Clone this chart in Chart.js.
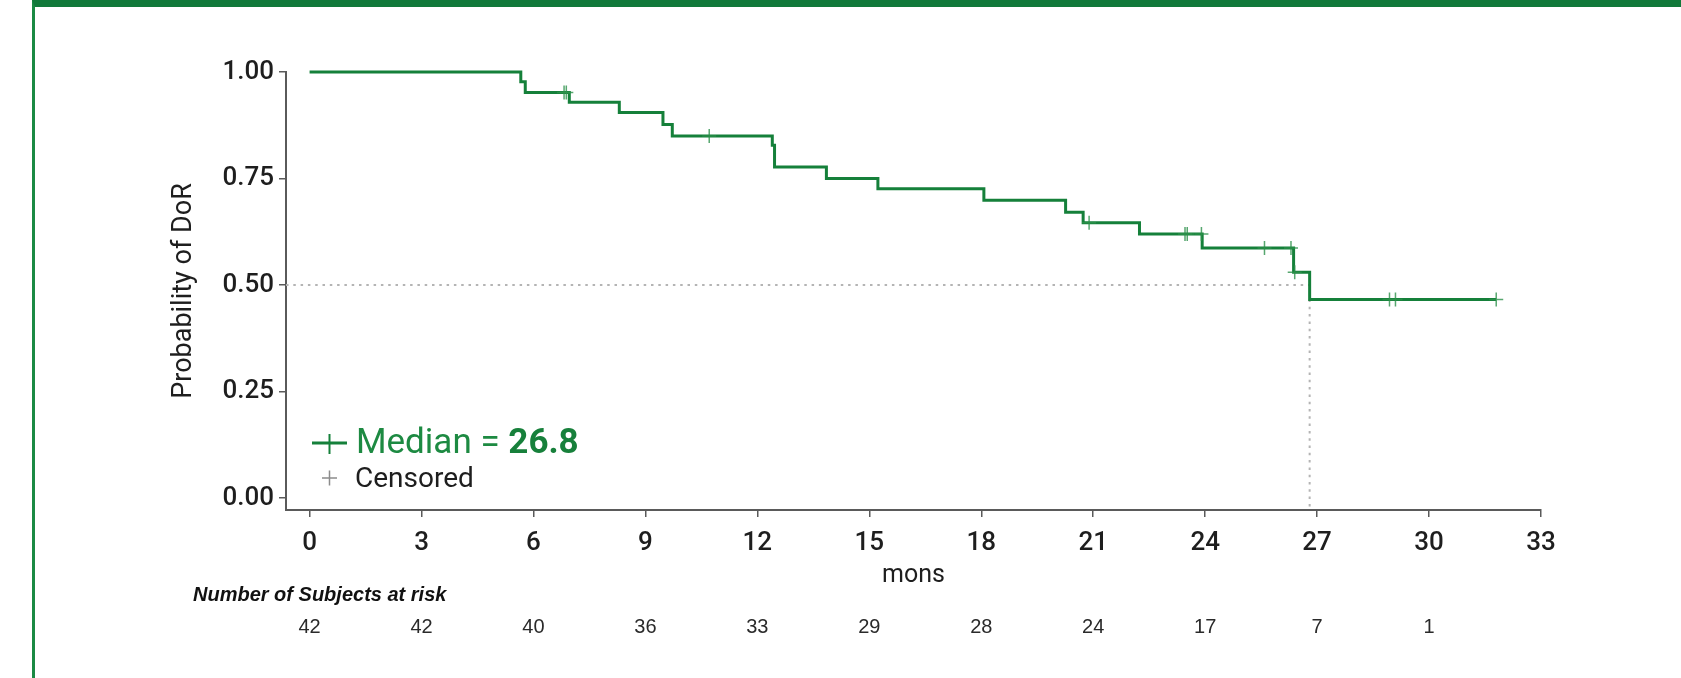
<!DOCTYPE html>
<html>
<head>
<meta charset="utf-8">
<script src="https://cdn.jsdelivr.net/npm/chart.js@4.4.1/dist/chart.umd.min.js"></script>
<style>
  html, body { margin: 0; padding: 0; background: #fff; }
  body { width: 1681px; height: 678px; overflow: hidden; position: relative; }
  #km { position: absolute; left: 0; top: 0; }
  #frame {
    position: absolute; left: 32px; top: 0; right: 0; bottom: 0;
    border-top: 7px solid #11793a; border-left: 3px solid #1b8a44;
    pointer-events: none;
  }
</style>
</head>
<body>
<canvas id="km" width="1681" height="678"></canvas>
<div id="frame"></div>
<script>
// Kaplan-Meier estimate of duration of response (months)
const stepTimes = [0, 5.66, 5.78, 6.96, 8.30, 9.47, 9.72, 12.40, 12.46, 13.85, 15.23, 18.07, 20.26, 20.73, 22.24, 23.92, 26.37, 26.80, 31.80];
const stepSurv  = [1.000, 0.977, 0.952, 0.929, 0.905, 0.877, 0.850, 0.828, 0.777, 0.750, 0.726, 0.699, 0.671, 0.646, 0.620, 0.587, 0.530, 0.466, 0.466];

// censored observations
const censorTimes = [6.82, 6.88, 10.71, 20.89, 23.46, 23.52, 23.90, 25.59, 26.30, 26.40, 28.94, 29.10, 31.80];
const censorSurv  = [0.952, 0.952, 0.850, 0.646, 0.620, 0.620, 0.620, 0.587, 0.587, 0.530, 0.466, 0.466, 0.466];

// median duration of response
const medianTime = 26.8;
const medianSurv = 0.466;

// axis ticks
const xTicks = [0, 3, 6, 9, 12, 15, 18, 21, 24, 27, 30, 33];
const yTicks = [0, 0.25, 0.5, 0.75, 1];

// number at risk below the time axis
const riskTimes  = [0, 3, 6, 9, 12, 15, 18, 21, 24, 27, 30];
const riskCounts = [42, 42, 40, 36, 33, 29, 28, 24, 17, 7, 1];

const X_MIN = -0.632, X_MAX = 33;
const Y_MIN = -0.028, Y_MAX = 1;

const GREEN = '#15803a';
const TEXT = '#1e1e1e';
const AXIS = '#5a5a5a';
const tickFont = { family: 'Roboto', size: 26, weight: '500' };
const titleFont = { family: 'Roboto', size: 27 };

const pts = (xs, ys) => xs.map((x, i) => ({ x: x, y: ys[i] }));

const overlay = {
  id: 'kmOverlay',
  afterDraw(chart) {
    const ctx = chart.ctx;
    const area = chart.chartArea;
    const xs = chart.scales.x;
    ctx.save();

    // legend
    const lx = area.left + 26;
    ctx.strokeStyle = GREEN;
    ctx.lineWidth = 3;
    ctx.beginPath(); ctx.moveTo(lx, 443); ctx.lineTo(lx + 35, 443); ctx.stroke();
    ctx.lineWidth = 2;
    ctx.beginPath(); ctx.moveTo(lx + 17.5, 434); ctx.lineTo(lx + 17.5, 454); ctx.stroke();

    ctx.textBaseline = 'alphabetic';
    ctx.textAlign = 'left';
    ctx.fillStyle = '#1d8a42';
    ctx.font = '35px Roboto';
    const lbl = 'Median = ';
    ctx.fillText(lbl, lx + 44, 453);
    const w = ctx.measureText(lbl).width;
    ctx.font = 'bold 35px Roboto';
    ctx.fillStyle = '#17803b';
    ctx.fillText(String(medianTime), lx + 44 + w, 453);

    ctx.strokeStyle = '#8c8c8c';
    ctx.lineWidth = 1.5;
    ctx.beginPath();
    ctx.moveTo(lx + 10, 478); ctx.lineTo(lx + 25, 478);
    ctx.moveTo(lx + 17.5, 470.5); ctx.lineTo(lx + 17.5, 485.5);
    ctx.stroke();
    ctx.fillStyle = TEXT;
    ctx.font = '28px Roboto';
    ctx.fillText('Censored', lx + 43, 487);

    // number at risk table
    ctx.fillStyle = '#111';
    ctx.font = 'italic bold 20px "Liberation Sans"';
    ctx.fillText('Number of Subjects at risk', 193, 601);
    ctx.fillStyle = '#2a2a2a';
    ctx.font = '20px "Liberation Sans"';
    ctx.textAlign = 'center';
    riskTimes.forEach((t, i) => {
      ctx.fillText(String(riskCounts[i]), xs.getPixelForValue(t), 633);
    });
    ctx.restore();
  }
};

new Chart(document.getElementById('km'), {
  type: 'line',
  data: {
    datasets: [
      {
        label: 'KM',
        data: pts(stepTimes, stepSurv),
        stepped: 'before',
        borderColor: GREEN,
        borderWidth: 3,
        pointRadius: 0,
        fill: false,
        clip: 10,
        order: 1
      },
      {
        label: 'Censored',
        type: 'scatter',
        data: pts(censorTimes, censorSurv),
        pointStyle: 'cross',
        pointRadius: 7,
        borderWidth: 1.5,
        borderColor: 'rgba(45,145,75,0.8)',
        backgroundColor: 'rgba(45,145,75,0.8)',
        showLine: false,
        clip: 10,
        order: 0
      },
      {
        label: 'median-h',
        data: [{ x: X_MIN, y: 0.5 }, { x: medianTime, y: 0.5 }],
        borderColor: '#b4b4b4',
        borderWidth: 2,
        borderDash: [2.5, 4.8],
        pointRadius: 0,
        order: 3
      },
      {
        label: 'median-v',
        data: [{ x: medianTime, y: medianSurv }, { x: medianTime, y: Y_MIN }],
        borderColor: '#b4b4b4',
        borderWidth: 2,
        borderDash: [2.5, 4.8],
        pointRadius: 0,
        order: 3
      }
    ]
  },
  options: {
    responsive: false,
    animation: false,
    devicePixelRatio: 1,
    layout: { padding: { left: 150, right: 140, top: 72, bottom: 88 } },
    plugins: { legend: { display: false }, tooltip: { enabled: false } },
    scales: {
      x: {
        type: 'linear',
        min: X_MIN, max: X_MAX,
        afterBuildTicks: s => { s.ticks = xTicks.map(v => ({ value: v })); },
        afterFit: s => { s.height = 80; },
        ticks: { font: tickFont, color: TEXT, padding: 11, maxRotation: 0, autoSkip: false },
        grid: { drawOnChartArea: false, drawTicks: true, tickLength: 7, color: AXIS, lineWidth: 1.5 },
        border: { display: true, color: AXIS, width: 2 },
        title: { display: true, text: 'mons', font: { family: 'Roboto', size: 25 }, color: TEXT, padding: { top: 0, bottom: -1 } }
      },
      y: {
        type: 'linear',
        min: Y_MIN, max: Y_MAX,
        afterBuildTicks: s => { s.ticks = yTicks.map(v => ({ value: v })); },
        afterFit: s => { s.width = 136; },
        ticks: { font: tickFont, color: TEXT, padding: 5, callback: v => Number(v).toFixed(2) },
        grid: { drawOnChartArea: false, drawTicks: true, tickLength: 7, color: AXIS, lineWidth: 1.5 },
        border: { display: true, color: AXIS, width: 2 },
        title: { display: true, text: 'Probability of DoR', font: titleFont, color: TEXT, padding: { top: 18, bottom: 0 } }
      }
    }
  },
  plugins: [overlay]
});
</script>
</body>
</html>
